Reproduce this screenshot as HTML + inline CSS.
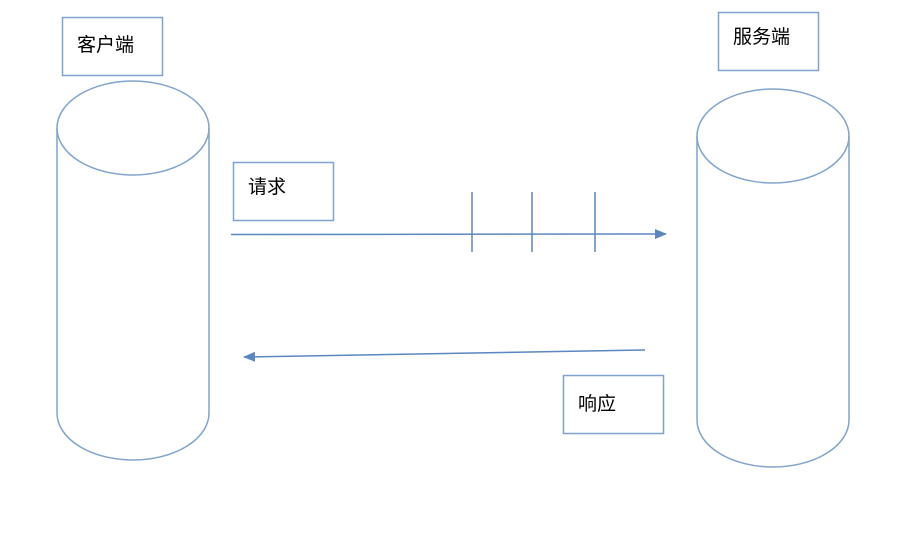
<!DOCTYPE html>
<html><head><meta charset="utf-8"><style>
html,body{margin:0;padding:0;background:#fff;width:922px;height:553px;overflow:hidden}
svg text{font-family:"Liberation Sans","Noto Sans CJK SC",sans-serif;font-size:19px;fill:#000}
</style></head><body>
<svg width="922" height="553" xmlns="http://www.w3.org/2000/svg">
<defs><marker id="a" markerWidth="12" markerHeight="10" refX="11" refY="5" orient="auto" markerUnits="userSpaceOnUse"><path d="M0,0 L12,5 L0,10 z" fill="#5b87c0"/></marker></defs>
<g fill="none" stroke="#7fa3cc" stroke-width="1.5">
<rect x="62.5" y="17.5" width="100" height="58"/>
<rect x="233.5" y="162.5" width="100" height="58"/>
<rect x="718.5" y="12.5" width="100" height="58"/>
<rect x="563.5" y="375.5" width="100" height="58"/>
<ellipse cx="133" cy="128" rx="76" ry="47"/>
<path d="M57,128 L57,413 A76,47 0 0 0 209,413 L209,128"/>
<ellipse cx="773" cy="136" rx="76" ry="47"/>
<path d="M697,136 L697,420 A76,47 0 0 0 849,420 L849,136"/>
</g>
<g stroke="#5b87c0" stroke-width="1.5" fill="none">
<line x1="231" y1="234.5" x2="666" y2="234" marker-end="url(#a)"/>
<line x1="472" y1="192" x2="472" y2="252"/>
<line x1="532" y1="192" x2="532" y2="252"/>
<line x1="595" y1="192" x2="595" y2="252"/>
<line x1="645" y1="350" x2="244" y2="357" marker-end="url(#a)"/>
</g>
<text x="77" y="51">客户端</text>
<text x="248" y="193">请求</text>
<text x="733" y="43">服务端</text>
<text x="578" y="410">响应</text>
</svg>
</body></html>
